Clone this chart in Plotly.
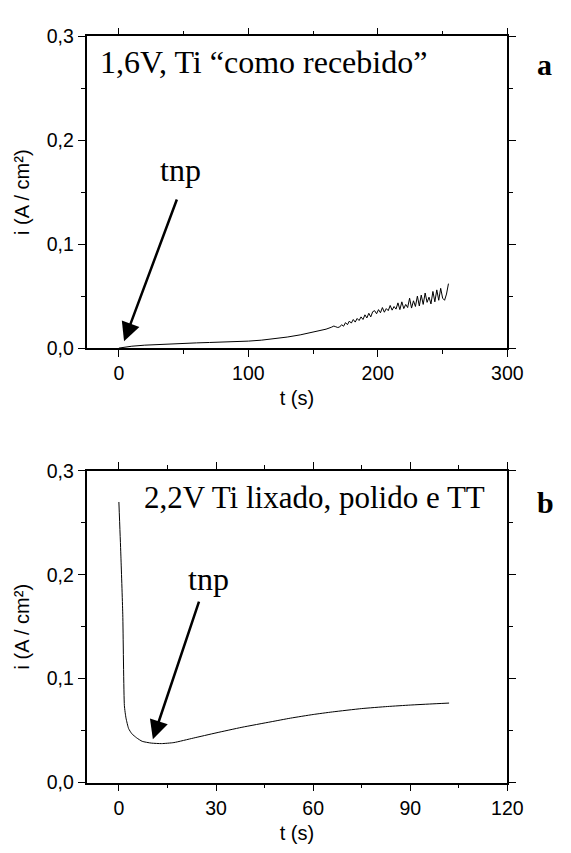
import plotly.graph_objects as go

# ---------------- data ----------------
# panel a : 1,6 V, Ti "como recebido"
t_a = [0, 5, 10, 20, 30, 40, 50, 60, 70, 80, 90, 100, 110, 120, 130, 140, 150, 160, 164,
       166, 167.5, 169, 170.5, 172, 173.5, 175, 176.5, 178, 179.5, 181, 182.5, 184, 185.5,
       187, 188.5, 190, 191.5, 193, 194.5, 196, 197.5, 199, 200.5, 202, 203.5, 205, 206.5,
       208, 209.5, 211, 212.5, 214, 215.5, 217, 218.5, 220, 221.5, 223, 224.5, 226, 227.5,
       229, 230.5, 232, 233.5, 235, 236.5, 238, 239.5, 241, 242.5, 244, 245.5, 247, 248.5,
       250, 251.5, 253, 254.5]
i_a = [0.0000, 0.0010, 0.0018, 0.0028, 0.0035, 0.0040, 0.0045, 0.0050, 0.0054, 0.0057,
       0.0061, 0.0067, 0.0076, 0.0089, 0.0106, 0.0127, 0.0152, 0.0182, 0.0200,
       0.0212, 0.0205, 0.0198, 0.0203, 0.0225, 0.0210, 0.0245, 0.0225, 0.0260, 0.0240,
       0.0275, 0.0250, 0.0285, 0.0265, 0.0300, 0.0275, 0.0320, 0.0290, 0.0335, 0.0300,
       0.0350, 0.0360, 0.0330, 0.0370, 0.0340, 0.0390, 0.0345, 0.0380, 0.0360, 0.0410,
       0.0365, 0.0400, 0.0375, 0.0435, 0.0370, 0.0445, 0.0380, 0.0420, 0.0390, 0.0480,
       0.0385, 0.0455, 0.0400, 0.0500, 0.0405, 0.0510, 0.0420, 0.0530, 0.0440, 0.0490,
       0.0425, 0.0545, 0.0445, 0.0560, 0.0460, 0.0575, 0.0480, 0.0460, 0.0520, 0.0620]

# panel b : 2,2 V Ti lixado, polido e TT
t_b = [0, 0.6, 1.2, 1.7, 2.2, 3.0, 4.0, 5.5, 7.2, 10.0, 13.2, 17.0, 23.0, 30.0, 38.0,
       47.0, 53.0, 60.0, 66.0, 75.0, 83.0, 90.0, 96.0, 102.0]
i_b = [0.270, 0.220, 0.162, 0.074, 0.062, 0.052, 0.047, 0.043, 0.0397, 0.0380, 0.0375,
       0.0385, 0.0428, 0.0478, 0.0532, 0.0585, 0.0620, 0.0655, 0.0680, 0.0712, 0.0732,
       0.0746, 0.0756, 0.0765]

x_ticks_a = [0, 100, 200, 300]
x_ticks_b = [0, 30, 60, 90, 120]
y_ticks = [0.0, 0.1, 0.2, 0.3]

label_a = "1,6V, Ti \u201ccomo recebido\u201d"
label_b = "2,2V Ti lixado, polido e TT"
arrow_text = "tnp"
# arrow tail / tip in data units
arrow_a = dict(tail=(45.2, 0.1444), tip=(4.0, 0.0066))
arrow_b = dict(tail=(24.9, 0.1756), tip=(10.5, 0.0418))

W, H = 571, 853
def px(x):
    return x / W
def py(y):
    return 1 - y / H

fig = go.Figure()
fig.add_trace(go.Scatter(x=t_a, y=i_a, mode="lines", line=dict(color="black", width=1),
                         xaxis="x", yaxis="y", showlegend=False))
fig.add_trace(go.Scatter(x=t_b, y=i_b, mode="lines", line=dict(color="black", width=1, shape="spline", smoothing=0.5),
                         xaxis="x2", yaxis="y2", showlegend=False))

tickfont = dict(family="Liberation Sans, Arial, sans-serif", size=19.5, color="black")
titlefont = dict(family="Liberation Sans, Arial, sans-serif", size=20, color="black")
common = dict(showline=True, linecolor="black", linewidth=1.5, mirror="ticks",
              ticks="outside", ticklen=7, tickwidth=1.2, tickcolor="black",
              showgrid=False, zeroline=False, tickfont=tickfont)

fig.update_layout(
    width=W, height=H, margin=dict(l=0, r=0, t=0, b=0),
    paper_bgcolor="white", plot_bgcolor="white", separators=",.",
    xaxis=dict(domain=[px(89), px(522)], anchor="y", range=[-25, 300],
               tickvals=x_ticks_a, minor=dict(dtick=50, tick0=0, ticklen=4, ticks="outside", tickcolor="black"),
               title=dict(text="t (s)", font=titlefont, standoff=8), **common),
    yaxis=dict(domain=[py(346), py(26)], anchor="x", range=[0, 0.3],
               tickvals=y_ticks, tickformat=".1f",
               minor=dict(dtick=0.05, tick0=0, ticklen=4, ticks="outside", tickcolor="black"),
               title=dict(text="i (A / cm\u00b2)", font=titlefont, standoff=12), **common),
    xaxis2=dict(domain=[px(89), px(522)], anchor="y2", range=[-10, 120],
                tickvals=x_ticks_b, minor=dict(dtick=15, tick0=0, ticklen=4, ticks="outside", tickcolor="black"),
                title=dict(text="t (s)", font=titlefont, standoff=8), **common),
    yaxis2=dict(domain=[py(792), py(472)], anchor="x2", range=[0, 0.3],
                tickvals=y_ticks, tickformat=".1f",
                minor=dict(dtick=0.05, tick0=0, ticklen=4, ticks="outside", tickcolor="black"),
                title=dict(text="i (A / cm\u00b2)", font=titlefont, standoff=12), **common),
)

serif = "Liberation Serif, Times New Roman, serif"
anns = [
    dict(text=label_a, x=px(101), y=py(52), xanchor="left", yanchor="middle",
         font=dict(family=serif, size=32, color="black")),
    dict(text="<b>a</b>", x=px(560), y=py(55), xanchor="center", yanchor="middle",
         font=dict(family=serif, size=30, color="black")),
    dict(text=arrow_text, x=px(186), y=py(163), xanchor="center", yanchor="middle",
         font=dict(family=serif, size=32, color="black")),
    dict(text=label_b, x=px(146), y=py(499), xanchor="left", yanchor="middle",
         font=dict(family=serif, size=31, color="black")),
    dict(text="<b>b</b>", x=px(561), y=py(505), xanchor="center", yanchor="middle",
         font=dict(family=serif, size=30, color="black")),
    dict(text=arrow_text, x=px(215), y=py(583), xanchor="center", yanchor="middle",
         font=dict(family=serif, size=32, color="black")),
]
for a in anns:
    a.update(xref="paper", yref="paper", showarrow=False)
    fig.add_annotation(**a)

for arr, xr, yr in [(arrow_a, "x", "y"), (arrow_b, "x2", "y2")]:
    fig.add_annotation(x=arr["tip"][0], y=arr["tip"][1], ax=arr["tail"][0], ay=arr["tail"][1],
                       xref=xr, yref=yr, axref=xr, ayref=yr, text="", showarrow=True,
                       arrowhead=2, arrowsize=1.5, arrowwidth=2.5, arrowcolor="black", standoff=0)

fig.write_html("out.html")
